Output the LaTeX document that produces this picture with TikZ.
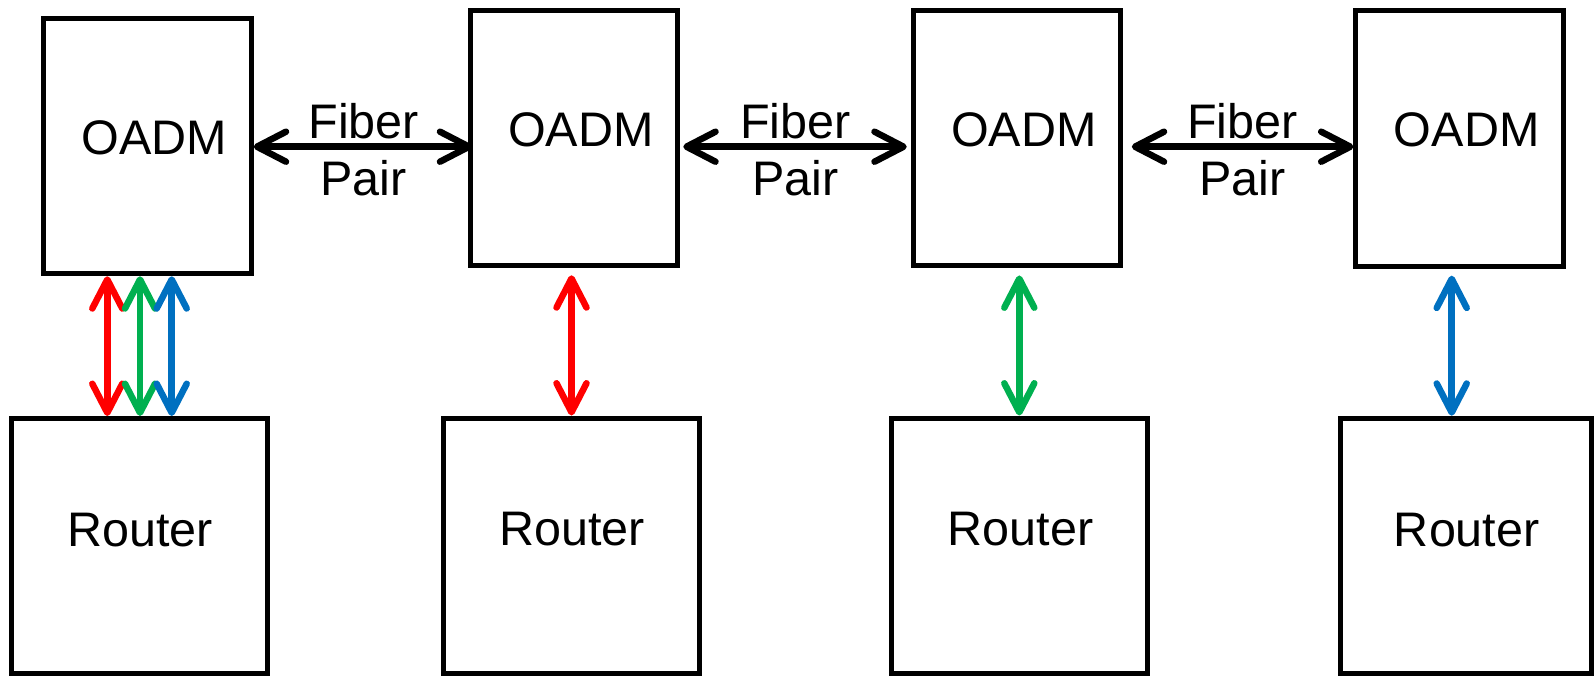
\documentclass[tikz,border=0pt]{standalone}
\usepackage{fontspec}
\setmainfont{Liberation Sans}
\usetikzlibrary{arrows.meta}
\definecolor{cred}{HTML}{FF0000}
\definecolor{cgreen}{HTML}{00B050}
\definecolor{cblue}{HTML}{0070C0}
\begin{document}
\begin{tikzpicture}[x=1pt,y=-1pt,
  box/.style={draw, line width=5pt, rectangle, inner sep=0pt},
  oadm/.style={box, minimum width=207.5pt, minimum height=255.5pt,
    label={[lbl, xshift=7pt, yshift=8.5pt]center:OADM}},
  router/.style={box, minimum width=256pt, minimum height=255pt,
    label={[lbl, xshift=1pt, yshift=16pt]center:Router}},
  lbl/.style={font=\fontsize{48.5}{57}\selectfont, inner sep=0pt},
  tipb/.tip={Straight Barb[length=29pt,width=30pt,round]},
  link/.style={line width=6.5pt, line cap=round, tipb-tipb},
  fib/.style={lbl, align=center, midway, yshift=-2.7pt},
]
\useasboundingbox (0,0) rectangle (1594,675);

\node[oadm] (o1) at (147.5,146) {};
\node[oadm] (o2) at (574,138) {};
\node[oadm] (o3) at (1017,138.2) {};
\node[oadm] (o4) at (1459.7,138.4) {};

\node[router] (r1) at (139,546) {};
\node[router] (r2) at (571,545.5) {};
\node[router] (r3) at (1019.5,545.5) {};
\node[router, minimum width=251.5pt] (r4) at (1465.75,545.75) {};

\draw[link, shorten >=-4.5pt] (o1.east |- 0,146.7) -- (o2.west |- 0,146.7)
  node[fib, xshift=3pt] {Fiber\\Pair};
\draw[link, shorten <=3pt, shorten >=4pt] (o2.east |- 0,146.7) -- (o3.west |- 0,146.7)
  node[fib] {Fiber\\Pair};
\draw[link, shorten <=8.5pt] (o3.east |- 0,146.7) -- (o4.west |- 0,146.7)
  node[fib, xshift=4pt] {Fiber\\Pair};

\draw[link, cred]   (o1.south -| 107.3,0) -- (r1.north -| 107.3,0);
\draw[link, cgreen] (o1.south -| 140,0)   -- (r1.north -| 140,0);
\draw[link, cblue]  (o1.south -| 171.7,0) -- (r1.north -| 171.7,0);

\draw[link, cred, shorten <=7pt]   (o2.south -| 571.5,0)  -- (r2.north -| 571.5,0);
\draw[link, cgreen, shorten <=7pt] (o3.south -| 1019.3,0) -- (r3.north -| 1019.3,0);
\draw[link, cblue, shorten <=7pt]  (o4.south -| 1451.7,0) -- (r4.north -| 1451.7,0);
\end{tikzpicture}
\end{document}
